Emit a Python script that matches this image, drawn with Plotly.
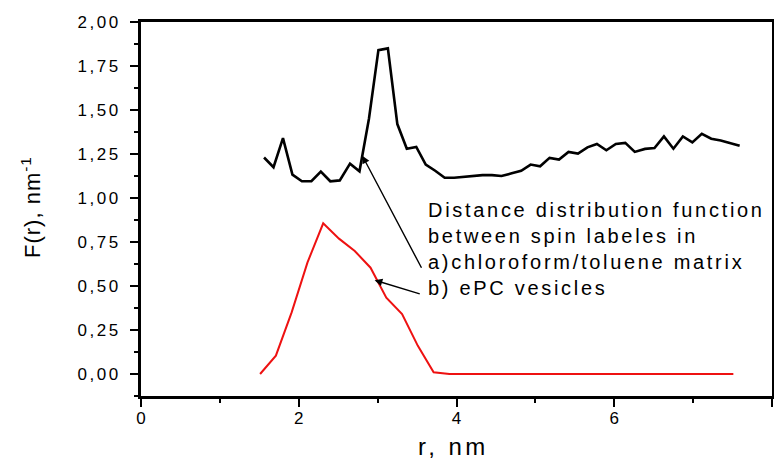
import plotly.graph_objects as go

# ---- data ----
r_a = [1.56, 1.68, 1.80, 1.92, 2.04, 2.16, 2.28, 2.40, 2.52, 2.65, 2.77, 2.89, 3.01, 3.13,
       3.25, 3.37, 3.49, 3.61, 3.73, 3.85, 3.97, 4.09, 4.21, 4.33, 4.45, 4.57, 4.70, 4.82,
       4.94, 5.06, 5.18, 5.30, 5.42, 5.54, 5.66, 5.78, 5.90, 6.02, 6.14, 6.26, 6.39, 6.51,
       6.63, 6.75, 6.87, 6.99, 7.11, 7.23, 7.35, 7.47, 7.59]
F_a = [1.23, 1.175, 1.34, 1.133, 1.095, 1.095, 1.15, 1.095, 1.10, 1.195, 1.152, 1.45, 1.84,
       1.85, 1.42, 1.28, 1.29, 1.19, 1.155, 1.115, 1.115, 1.12, 1.125, 1.13, 1.13, 1.125,
       1.14, 1.155, 1.19, 1.18, 1.228, 1.218, 1.262, 1.252, 1.288, 1.307, 1.271, 1.307,
       1.313, 1.262, 1.279, 1.284, 1.35, 1.28, 1.35, 1.316, 1.365, 1.337, 1.327, 1.313, 1.297]

r_b = [1.51, 1.71, 1.91, 2.11, 2.31, 2.51, 2.71, 2.91, 3.11, 3.31, 3.51, 3.71, 3.91, 4.11,
       4.31, 4.51, 4.71, 4.91, 5.11, 5.31, 5.51, 5.71, 5.91, 6.11, 6.31, 6.51, 6.71, 6.91,
       7.11, 7.31, 7.51]
F_b = [0.0, 0.104, 0.35, 0.633, 0.856, 0.769, 0.699, 0.604, 0.434, 0.34, 0.16, 0.01, 0.0,
       0.0, 0.0, 0.0, 0.0, 0.0, 0.0, 0.0, 0.0, 0.0, 0.0, 0.0, 0.0, 0.0, 0.0, 0.0, 0.0, 0.0, 0.0]

y_tickvals = [0.0, 0.25, 0.5, 0.75, 1.0, 1.25, 1.5, 1.75, 2.0]
y_ticklabels = ["0,00", "0,25", "0,50", "0,75", "1,00", "1,25", "1,50", "1,75", "2,00"]
x_tickvals = [0, 2, 4, 6, 8]
x_ticklabels = ["0", "2", "4", "6", "8"]

note_lines = ["Distance distribution function",
              "between spin labeles in",
              "a)chloroform/toluene matrix",
              "b) ePC vesicles"]

FONT = "Liberation Sans, Arial, Helvetica, sans-serif"
BLACK = "#000000"
LW = 3

def spaced(s, px):
    return f'<span style="letter-spacing:{px}px">{s}</span>'

fig = go.Figure()
fig.add_trace(go.Scatter(x=r_a, y=F_a, mode="lines",
                         line=dict(color=BLACK, width=2.6), showlegend=False))
fig.add_trace(go.Scatter(x=r_b, y=F_b, mode="lines",
                         line=dict(color="#ee1111", width=2), showlegend=False))

fig.update_layout(
    width=774, height=464,
    margin=dict(l=141, r=2, t=22, b=68),
    plot_bgcolor="white", paper_bgcolor="white",
    font=dict(family=FONT, color=BLACK, size=16),
    showlegend=False,
    xaxis=dict(range=[0, 8], showline=True, mirror=True, linecolor=BLACK, linewidth=LW,
               ticks="outside", ticklen=8, tickcolor=BLACK, tickwidth=2,
               tickvals=x_tickvals, ticktext=x_ticklabels,
               minor=dict(tickvals=[1, 3, 5, 7], ticks="outside", ticklen=4,
                          tickwidth=2, tickcolor=BLACK),
               tickfont=dict(size=17, color=BLACK), ticklabelstandoff=-3,
               zeroline=False, showgrid=False, automargin=False),
    yaxis=dict(range=[-0.125, 2.0], showline=True, mirror=True, linecolor=BLACK,
               linewidth=LW, ticks="outside", ticklen=8, tickcolor=BLACK, tickwidth=2,
               tickvals=y_tickvals, ticktext=[spaced(t, 2.5) for t in y_ticklabels],
               minor=dict(dtick=0.125, tick0=0, ticks="outside", ticklen=4,
                          tickwidth=2, tickcolor=BLACK),
               tickfont=dict(size=17, color=BLACK), ticklabelstandoff=6,
               zeroline=False, showgrid=False, automargin=False),
)

annotations = [
    dict(x=3.61, y=0.708, xref="x", yref="y", xanchor="left", yanchor="middle",
         align="left", showarrow=False,
         text="<br>".join(spaced(t, 2.7) for t in note_lines),
         font=dict(size=20, family=FONT, color=BLACK)),
    dict(x=2.806, y=1.24, xref="x", yref="y", ax=3.566, ay=0.595, axref="x", ayref="y",
         text="", showarrow=True, arrowhead=2, arrowsize=1.1, arrowwidth=1.4,
         arrowcolor=BLACK),
    dict(x=2.962, y=0.533, xref="x", yref="y", ax=3.553, ay=0.453, axref="x", ayref="y",
         text="", showarrow=True, arrowhead=2, arrowsize=1.1, arrowwidth=1.4,
         arrowcolor=BLACK),
    dict(x=(453 - 141) / 631, y=-(447 - 396) / 374, xref="paper", yref="paper",
         xanchor="center", yanchor="middle", showarrow=False,
         text=spaced("r, nm", 3.5), font=dict(size=24, family=FONT, color=BLACK)),
    dict(x=-(141 - 31) / 631, y=(396 - 207) / 374, xref="paper", yref="paper",
         xanchor="center", yanchor="middle", showarrow=False, textangle=-90,
         text=spaced("F(r), nm<sup>-1</sup>", 1),
         font=dict(size=22, family=FONT, color=BLACK)),
]
fig.update_layout(annotations=annotations)

# remove the browser's default 8px body margin so the figure fills the window
fig.write_html("out.html", config={"displayModeBar": False},
               post_script="document.body.style.margin='0';document.body.style.overflow='hidden';")
